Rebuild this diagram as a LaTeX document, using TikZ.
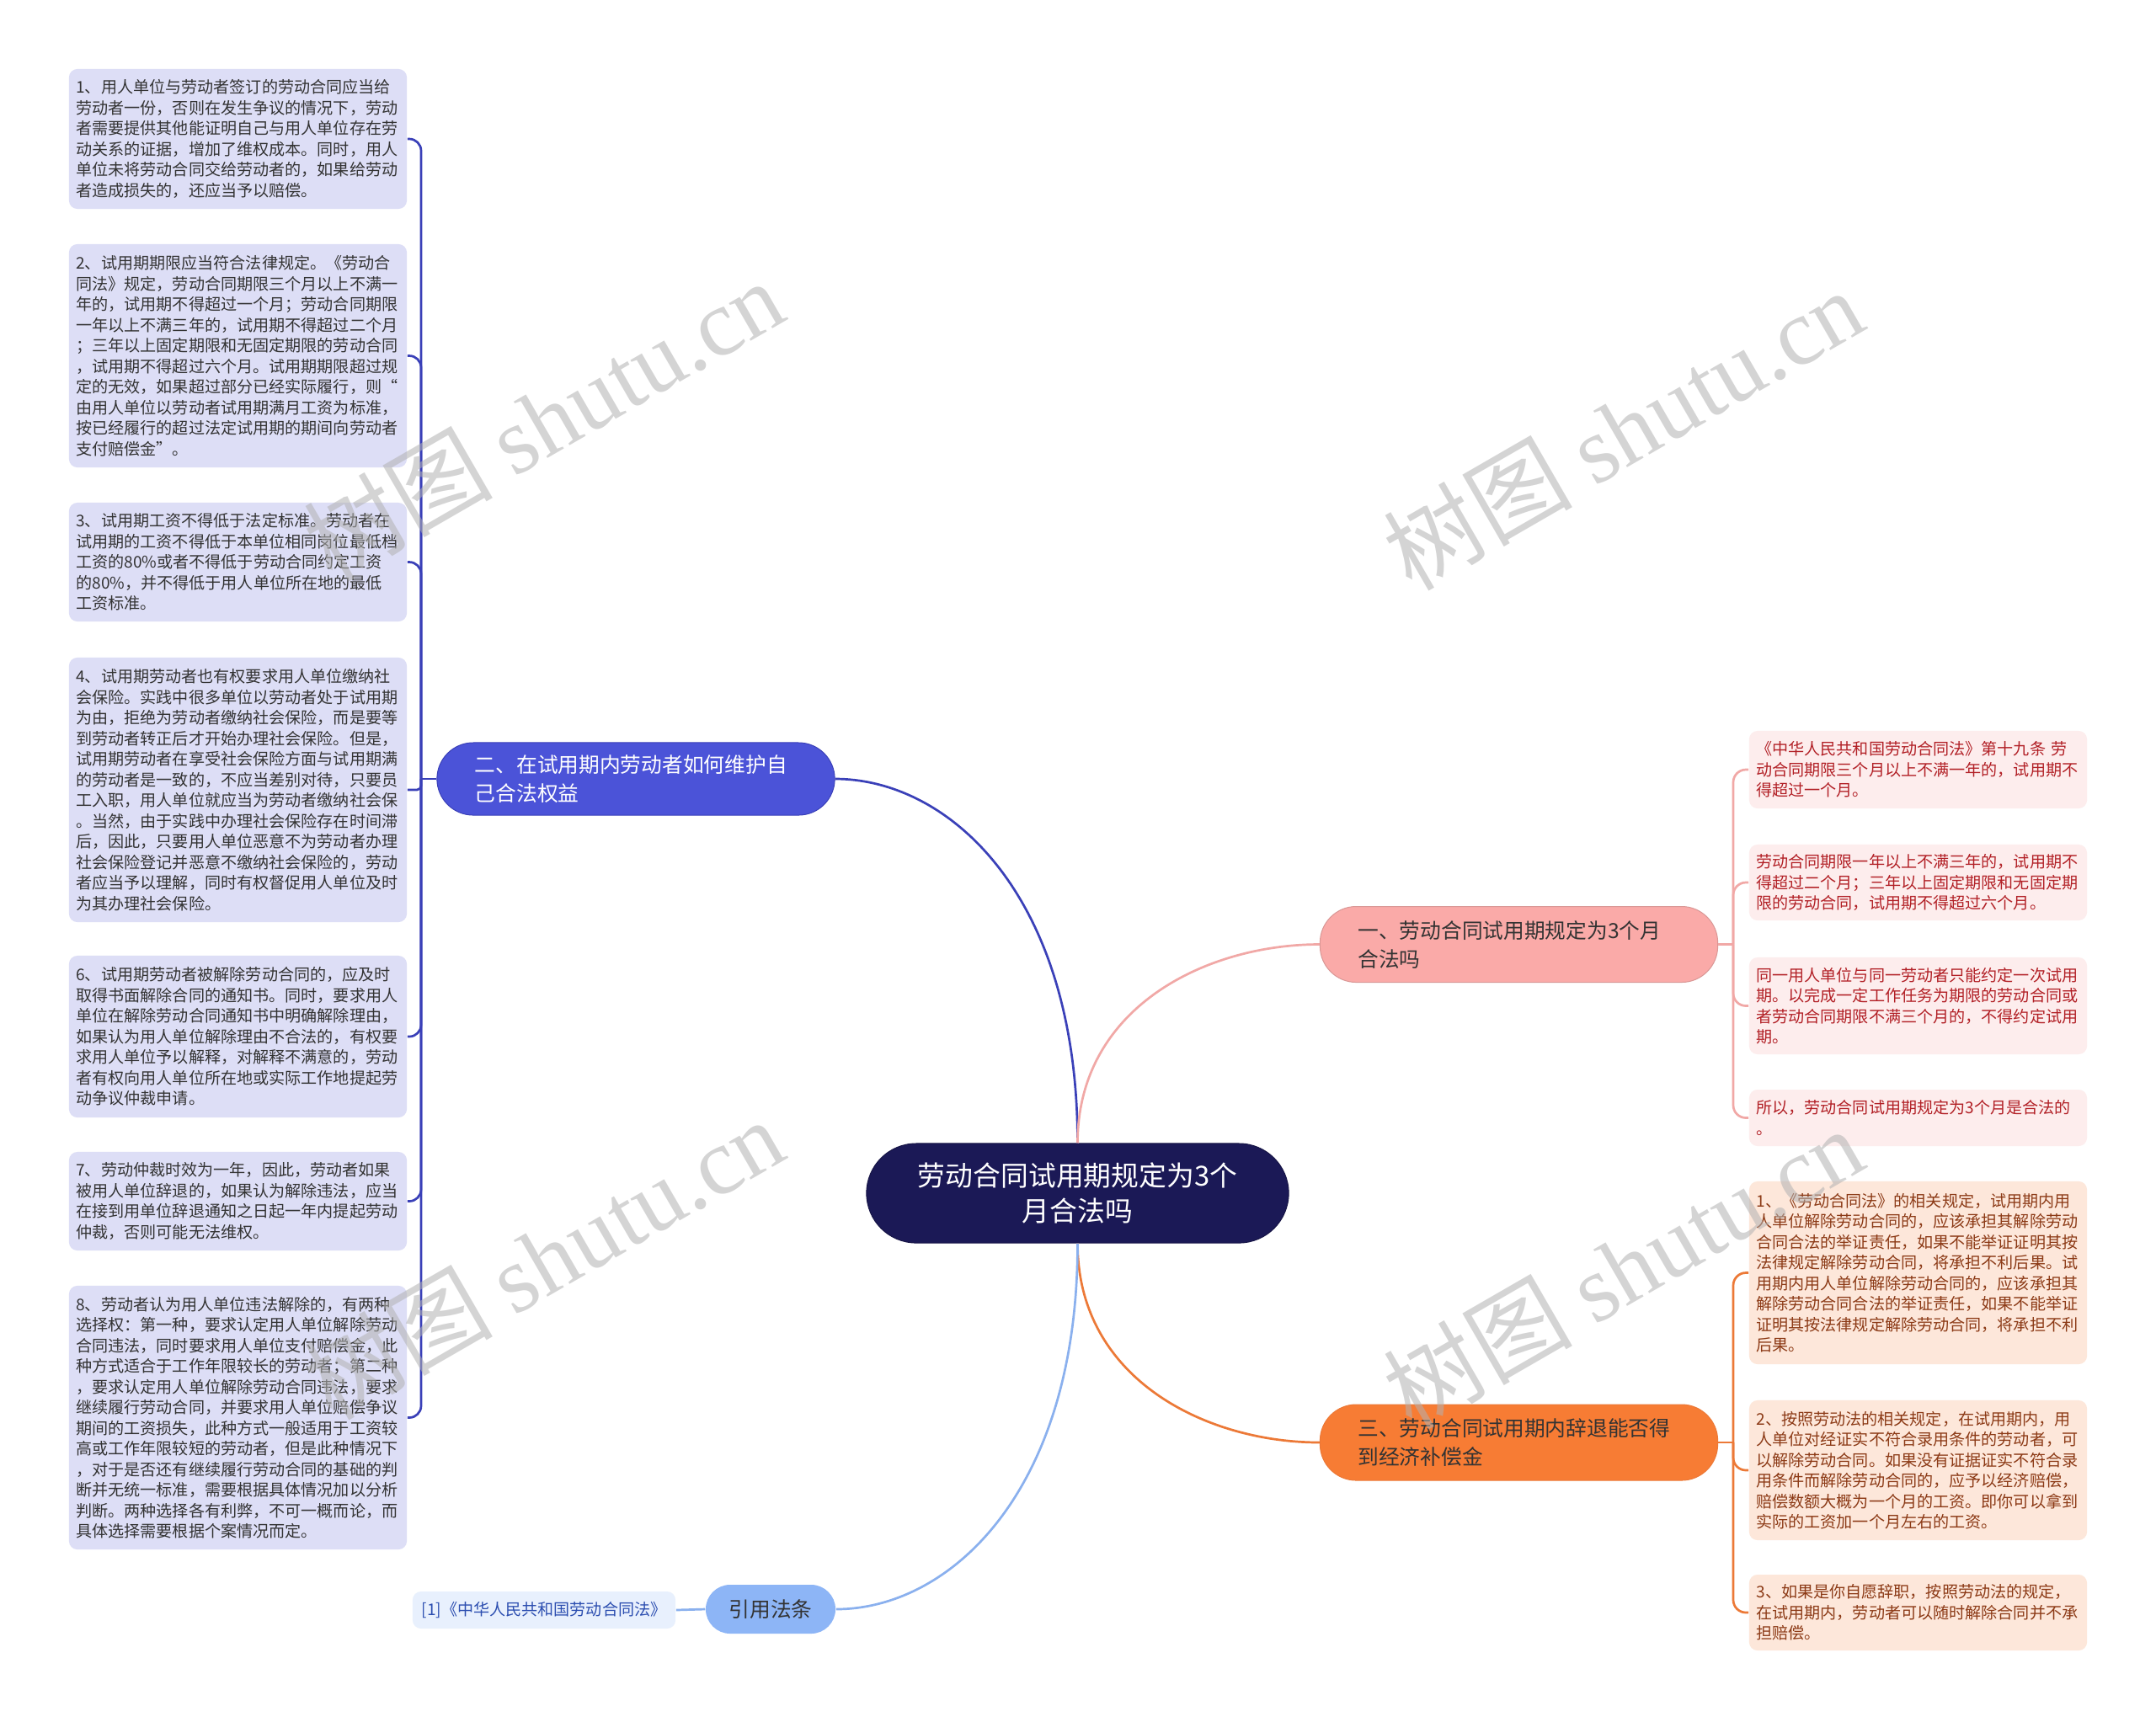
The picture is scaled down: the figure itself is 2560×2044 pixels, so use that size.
\documentclass[tikz,border=0pt]{standalone}
\usepackage{fontspec}
\setmainfont{Noto Sans CJK SC}
\newfontfamily\wmfont{Liberation Serif}
\definecolor{RootNavy}{RGB}{27,25,86}
\definecolor{TopicBlue}{RGB}{75,83,216}
\definecolor{LineBlue}{RGB}{58,64,184}
\definecolor{SoftLavender}{RGB}{221,222,246}
\definecolor{TopicPink}{RGB}{250,170,168}
\definecolor{LinePink}{RGB}{241,168,166}
\definecolor{SoftPink}{RGB}{253,237,237}
\definecolor{TextRed}{RGB}{178,32,38}
\definecolor{TopicOrange}{RGB}{247,124,52}
\definecolor{LineOrange}{RGB}{236,121,55}
\definecolor{SoftPeach}{RGB}{253,231,218}
\definecolor{TextBrown}{RGB}{140,58,22}
\definecolor{TopicSky}{RGB}{141,181,246}
\definecolor{LineSky}{RGB}{138,176,238}
\definecolor{SoftSky}{RGB}{232,240,253}
\definecolor{TextBlue}{RGB}{44,78,176}
\definecolor{TextDark}{RGB}{51,51,51}
\tikzset{
  root/.style={fill=RootNavy,draw=RootNavy!80!black,line width=0.01cm,text=white,
    rounded corners=0.59cm,minimum width=5.01cm,minimum height=1.18cm,
    align=center,inner sep=0pt,font=\fontsize{9.33}{12.07}\selectfont},
  topic/.style={rounded corners=0.43cm,minimum height=0.9cm,text width=3.82cm,
    inner xsep=0.45cm,inner ysep=0pt,align=left,line width=0.01cm,
    font=\fontsize{7.03}{9.67}\selectfont},
  citetopic/.style={rounded corners=0.29cm,minimum width=1.54cm,minimum height=0.58cm,
    inner sep=0pt,align=center,font=\fontsize{7.03}{9.67}\selectfont},
  leaf/.style={rounded corners=0.1cm,text width=3.84cm,inner xsep=0.085cm,
    inner ysep=0pt,align=left,font=\fontsize{5.43}{6.97}\selectfont},
  lleaf/.style={leaf,fill=SoftLavender,text=TextDark},
  pleaf/.style={leaf,fill=SoftPink,text=TextRed},
  oleaf/.style={leaf,fill=SoftPeach,text=TextBrown},
  citeleaf/.style={rounded corners=0.1cm,fill=SoftSky,text=TextBlue,minimum width=3.12cm,
    minimum height=0.44cm,inner sep=0pt,align=center,font=\fontsize{5.43}{6.97}\selectfont},
  link/.style={line width=0.027cm},
  watermark/.style={text=black!30,opacity=0.55,rotate=30,font=\fontsize{32}{32}\selectfont}
}
\begin{document}
\begin{tikzpicture}[x=0.01cm,y=-0.01cm]
\useasboundingbox[fill=white] (0,0) rectangle (2560,2044);

\node[root] (root) at (1279.5,1417) {劳动合同试用期规定为3个\\月合法吗};

\node[topic,fill=TopicBlue,draw=LineBlue,text=white,minimum height=0.86cm] (t2) at (755,925)
  {二、在试用期内劳动者如何维护自\\己合法权益};
\node[topic,fill=TopicPink,draw=LinePink!90!black,text=TextDark] (t1) at (1803.5,1121.5)
  {一、劳动合同试用期规定为3个月\\合法吗};
\node[topic,fill=TopicOrange,draw=LineOrange,text=TextDark] (t3) at (1803.5,1713)
  {三、劳动合同试用期内辞退能否得\\到经济补偿金};
\node[citetopic,fill=TopicSky,text=TextDark] (t4) at (915,1911) {引用法条};

\node[lleaf,minimum height=1.66cm] (l1) at (282.5,165)
  {1、用人单位与劳动者签订的劳动合同应当给\\劳动者一份，否则在发生争议的情况下，劳动\\者需要提供其他能证明自己与用人单位存在劳\\动关系的证据，增加了维权成本。同时，用人\\单位未将劳动合同交给劳动者的，如果给劳动\\者造成损失的，还应当予以赔偿。};
\node[lleaf,minimum height=2.65cm] (l2) at (282.5,422.5)
  {2、试用期期限应当符合法律规定。《劳动合\\同法》规定，劳动合同期限三个月以上不满一\\年的，试用期不得超过一个月；劳动合同期限\\一年以上不满三年的，试用期不得超过二个月\\；三年以上固定期限和无固定期限的劳动合同\\，试用期不得超过六个月。试用期期限超过规\\定的无效，如果超过部分已经实际履行，则“\\由用人单位以劳动者试用期满月工资为标准，\\按已经履行的超过法定试用期的期间向劳动者\\支付赔偿金”。};
\node[lleaf,minimum height=1.41cm] (l3) at (282.5,667.5)
  {3、试用期工资不得低于法定标准。劳动者在\\试用期的工资不得低于本单位相同岗位最低档\\工资的80\%或者不得低于劳动合同约定工资\\的80\%，并不得低于用人单位所在地的最低\\工资标准。};
\node[lleaf,minimum height=3.14cm] (l4) at (282.5,938)
  {4、试用期劳动者也有权要求用人单位缴纳社\\会保险。实践中很多单位以劳动者处于试用期\\为由，拒绝为劳动者缴纳社会保险，而是要等\\到劳动者转正后才开始办理社会保险。但是，\\试用期劳动者在享受社会保险方面与试用期满\\的劳动者是一致的，不应当差别对待，只要员\\工入职，用人单位就应当为劳动者缴纳社会保\\。当然，由于实践中办理社会保险存在时间滞\\后，因此，只要用人单位恶意不为劳动者办理\\社会保险登记并恶意不缴纳社会保险的，劳动\\者应当予以理解，同时有权督促用人单位及时\\为其办理社会保险。};
\node[lleaf,minimum height=1.92cm] (l6) at (282.5,1231)
  {6、试用期劳动者被解除劳动合同的，应及时\\取得书面解除合同的通知书。同时，要求用人\\单位在解除劳动合同通知书中明确解除理由，\\如果认为用人单位解除理由不合法的，有权要\\求用人单位予以解释，对解释不满意的，劳动\\者有权向用人单位所在地或实际工作地提起劳\\动争议仲裁申请。};
\node[lleaf,minimum height=1.17cm] (l7) at (282.5,1426.5)
  {7、劳动仲裁时效为一年，因此，劳动者如果\\被用人单位辞退的，如果认为解除违法，应当\\在接到用单位辞退通知之日起一年内提起劳动\\仲裁，否则可能无法维权。};
\node[lleaf,minimum height=3.13cm] (l8) at (282.5,1683.5)
  {8、劳动者认为用人单位违法解除的，有两种\\选择权：第一种，要求认定用人单位解除劳动\\合同违法，同时要求用人单位支付赔偿金，此\\种方式适合于工作年限较长的劳动者；第二种\\，要求认定用人单位解除劳动合同违法，要求\\继续履行劳动合同，并要求用人单位赔偿争议\\期间的工资损失，此种方式一般适用于工资较\\高或工作年限较短的劳动者，但是此种情况下\\，对于是否还有继续履行劳动合同的基础的判\\断并无统一标准，需要根据具体情况加以分析\\判断。两种选择各有利弊，不可一概而论，而\\具体选择需要根据个案情况而定。};

\node[pleaf,minimum height=0.92cm] (r1) at (2277.5,914)
  {《中华人民共和国劳动合同法》第十九条 劳\\动合同期限三个月以上不满一年的，试用期不\\得超过一个月。};
\node[pleaf,minimum height=0.9cm] (r2) at (2277.5,1048)
  {劳动合同期限一年以上不满三年的，试用期不\\得超过二个月；三年以上固定期限和无固定期\\限的劳动合同，试用期不得超过六个月。};
\node[pleaf,minimum height=1.15cm] (r3) at (2277.5,1194.5)
  {同一用人单位与同一劳动者只能约定一次试用\\期。以完成一定工作任务为期限的劳动合同或\\者劳动合同期限不满三个月的，不得约定试用\\期。};
\node[pleaf,minimum height=0.67cm] (r4) at (2277.5,1327.5)
  {所以，劳动合同试用期规定为3个月是合法的\\。};

\node[oleaf,minimum height=2.17cm] (r5) at (2277.5,1511.5)
  {1、《劳动合同法》的相关规定，试用期内用\\人单位解除劳动合同的，应该承担其解除劳动\\合同合法的举证责任，如果不能举证证明其按\\法律规定解除劳动合同，将承担不利后果。试\\用期内用人单位解除劳动合同的，应该承担其\\解除劳动合同合法的举证责任，如果不能举证\\证明其按法律规定解除劳动合同，将承担不利\\后果。};
\node[oleaf,minimum height=1.66cm] (r6) at (2277.5,1746)
  {2、按照劳动法的相关规定，在试用期内，用\\人单位对经证实不符合录用条件的劳动者，可\\以解除劳动合同。如果没有证据证实不符合录\\用条件而解除劳动合同的，应予以经济赔偿，\\赔偿数额大概为一个月的工资。即你可以拿到\\实际的工资加一个月左右的工资。};
\node[oleaf,minimum height=0.9cm] (r7) at (2277.5,1915)
  {3、如果是你自愿辞职，按照劳动法的规定，\\在试用期内，劳动者可以随时解除合同并不承\\担赔偿。};

\node[citeleaf] (c1) at (646,1912) {[1]《中华人民共和国劳动合同法》};

\draw[link,LineBlue] (root.north) .. controls +(0,-295) and +(135,0) .. (t2.east);
\draw[link,LinePink] (root.north) .. controls +(0,-161) and +(-135,0) .. (t1.west);
\draw[link,LineOrange] (root.south) .. controls +(0,161) and +(-135,0) .. (t3.west);
\draw[link,LineSky] (root.south) .. controls +(0,295) and +(135,0) .. (t4.east);

\coordinate (s2) at (500,925);
\coordinate (s1) at (2058,1121.5);
\coordinate (s3) at (2058,1713);
\draw[link,LineBlue] (t2.west) -- (s2);
\foreach \n in {l1,l2,l3,l6,l7,l8}
  \draw[link,LineBlue,rounded corners=0.14cm] (s2) |- (\n.east);
\draw[link,LineBlue,rounded corners=0.05cm] (s2) |- (l4.east);
\draw[link,LinePink] (t1.east) -- (s1);
\foreach \n in {r1,r2,r3,r4}
  \draw[link,LinePink,rounded corners=0.15cm] (s1) |- (\n.west);
\draw[link,LineOrange] (t3.east) -- (s3);
\foreach \n in {r5,r6,r7}
  \draw[link,LineOrange,rounded corners=0.15cm] (s3) |- (\n.west);
\draw[link,LineSky] (t4.west) -- (c1.east);

\node[watermark] (wm1) at (645,498) {树图 {\wmfont shutu.cn}};
\node[watermark] (wm2) at (1927,509) {树图 {\wmfont shutu.cn}};
\node[watermark] (wm3) at (645,1494) {树图 {\wmfont shutu.cn}};
\node[watermark] (wm4) at (1927,1505) {树图 {\wmfont shutu.cn}};
\end{tikzpicture}
\end{document}
